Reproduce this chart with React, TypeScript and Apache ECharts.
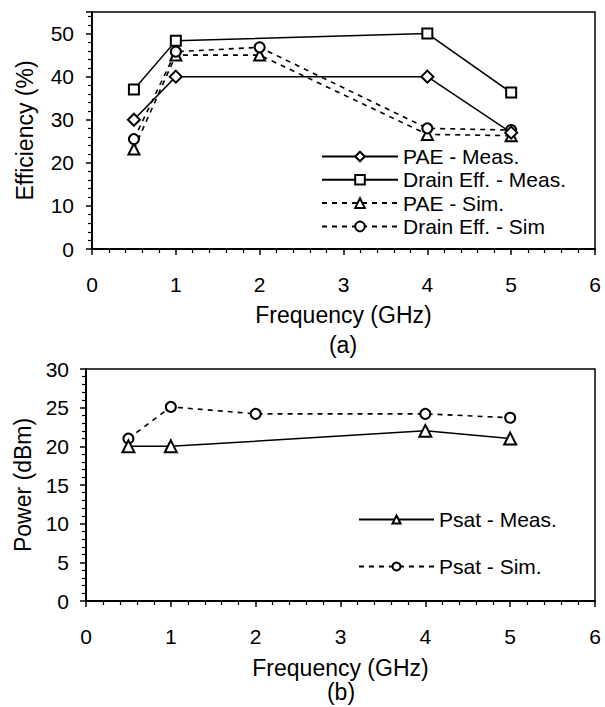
import React, { useEffect, useRef } from "react";
import * as echarts from "echarts";

// ---- Data (a) Efficiency ----
const paeMeasFreq = [0.5, 1, 4, 5];
const paeMeas = [30, 40, 40, 27];
const drainMeasFreq = [0.5, 1, 4, 5];
const drainMeas = [37, 48.3, 50, 36.3];
const simFreq = [0.5, 1, 2, 4, 5];
const paeSim = [23.2, 45, 45, 26.6, 26.3];
const drainSim = [25.5, 45.8, 46.8, 28, 27.6];

// ---- Data (b) Power ----
const psatMeasFreq = [0.5, 1, 4, 5];
const psatMeas = [20, 20, 22, 21];
const psatSimFreq = [0.5, 1, 2, 4, 5];
const psatSim = [21, 25.1, 24.2, 24.2, 23.7];

const namesA = ["PAE - Meas.", "Drain Eff. - Meas.", "PAE - Sim.", "Drain Eff. - Sim"];
const namesB = ["Psat - Meas.", "Psat - Sim."];

const FONT = "'Liberation Sans', Arial, Helvetica, sans-serif";
const BLACK = "#000";

const zip = (xs: number[], ys: number[]) => xs.map((x, i) => [x, ys[i]]);

const xAxisBase = (gridIndex: number, margin: number, nameGap: number) => ({
  type: "value",
  gridIndex,
  min: 0,
  max: 6,
  interval: 1,
  name: "Frequency (GHz)",
  nameLocation: "middle",
  nameGap,
  nameTextStyle: { color: BLACK, fontSize: 23, fontFamily: FONT },
  axisLine: { show: true, onZero: false, lineStyle: { color: BLACK, width: 2 } },
  axisTick: { show: true, inside: false, length: 6, lineStyle: { color: BLACK, width: 1.5 } },
  minorTick: { show: true, splitNumber: 5, length: 4, lineStyle: { color: BLACK, width: 1.2 } },
  splitLine: { show: false },
  minorSplitLine: { show: false },
  axisLabel: { color: BLACK, fontSize: 21, fontFamily: FONT, margin },
});

const solidSeries = (name: string, data: number[][], symbol: string, size: number, xi: number) => ({
  name,
  type: "line",
  xAxisIndex: xi,
  yAxisIndex: xi,
  data,
  symbol,
  symbolSize: size,
  showSymbol: true,
  color: BLACK,
  lineStyle: { color: BLACK, width: 1.5, type: "solid" },
  itemStyle: { color: BLACK, borderColor: BLACK, borderWidth: 1.6 },
  z: 3,
});

const dashedSeries = (name: string, data: number[][], symbol: string, size: number, xi: number) => ({
  name,
  type: "line",
  xAxisIndex: xi,
  yAxisIndex: xi,
  data,
  symbol,
  symbolSize: size,
  showSymbol: true,
  color: BLACK,
  lineStyle: { color: BLACK, width: 1.6, type: [5, 5] },
  itemStyle: { color: BLACK, borderColor: BLACK, borderWidth: 1.6 },
  z: 2,
});

export default function App() {
  const ref = useRef<HTMLDivElement>(null);

  useEffect(() => {
    document.body.style.margin = "0";
    if (!ref.current) return;
    const chart = echarts.init(ref.current, undefined, { renderer: "svg" });

    const option: any = {
      animation: false,
      backgroundColor: "#fff",
      textStyle: { fontFamily: FONT, color: BLACK },
      grid: [
        { left: 92, top: 12, width: 503, height: 237, show: true, borderColor: BLACK, borderWidth: 1.5, backgroundColor: "transparent" },
        { left: 86, top: 369, width: 509, height: 232, show: true, borderColor: BLACK, borderWidth: 1.5, backgroundColor: "transparent" },
      ],
      xAxis: [xAxisBase(0, 25, 54), xAxisBase(1, 25, 55)],
      yAxis: [
        {
          type: "value",
          gridIndex: 0,
          min: 0,
          max: 55,
          interval: 10,
          name: "Efficiency (%)",
          nameLocation: "middle",
          nameGap: 56,
          nameTextStyle: { color: BLACK, fontSize: 23, fontFamily: FONT },
          axisLine: { show: true, onZero: false, lineStyle: { color: BLACK, width: 2 } },
          axisTick: { show: true, inside: false, length: 6, lineStyle: { color: BLACK, width: 1.5 } },
          minorTick: { show: true, splitNumber: 5, length: 4, lineStyle: { color: BLACK, width: 1.2 } },
          splitLine: { show: false },
          axisLabel: { color: BLACK, fontSize: 21, fontFamily: FONT, margin: 18, showMaxLabel: false },
        },
        {
          type: "value",
          gridIndex: 1,
          min: 0,
          max: 30,
          interval: 5,
          name: "Power (dBm)",
          nameLocation: "middle",
          nameGap: 52,
          nameTextStyle: { color: BLACK, fontSize: 23, fontFamily: FONT },
          axisLine: { show: true, onZero: false, lineStyle: { color: BLACK, width: 2 } },
          axisTick: { show: true, inside: false, length: 6, lineStyle: { color: BLACK, width: 1.5 } },
          minorTick: { show: true, splitNumber: 5, length: 4, lineStyle: { color: BLACK, width: 1.2 } },
          splitLine: { show: false },
          axisLabel: { color: BLACK, fontSize: 21, fontFamily: FONT, margin: 17 },
        },
      ],
      legend: [
        {
          data: namesA,
          orient: "vertical",
          left: 321,
          top: 146,
          itemWidth: 76,
          itemHeight: 12,
          itemGap: 2.3,
          padding: 0,
          textStyle: { color: BLACK, fontSize: 21, fontFamily: FONT, lineHeight: 21 },
        },
        {
          data: namesB,
          orient: "vertical",
          left: 358,
          top: 509,
          itemWidth: 75,
          itemHeight: 10,
          itemGap: 26,
          padding: 0,
          textStyle: { color: BLACK, fontSize: 21, fontFamily: FONT, lineHeight: 21 },
        },
      ],
      graphic: [
        { type: "text", x: 343, y: 345, style: { text: "(a)", fill: BLACK, font: `23px ${FONT}`, textAlign: "center", textVerticalAlign: "middle" } },
        { type: "text", x: 341, y: 692, style: { text: "(b)", fill: BLACK, font: `23px ${FONT}`, textAlign: "center", textVerticalAlign: "middle" } },
      ],
      series: [
        solidSeries(namesA[0], zip(paeMeasFreq, paeMeas), "emptyDiamond", 12, 0),
        solidSeries(namesA[1], zip(drainMeasFreq, drainMeas), "emptyRect", 10, 0),
        dashedSeries(namesA[2], zip(simFreq, paeSim), "emptyTriangle", 11, 0),
        dashedSeries(namesA[3], zip(simFreq, drainSim), "emptyCircle", 10, 0),
        solidSeries(namesB[0], zip(psatMeasFreq, psatMeas), "emptyTriangle", 12, 1),
        dashedSeries(namesB[1], zip(psatSimFreq, psatSim), "emptyCircle", 10, 1),
      ],
    };

    chart.setOption(option);
    return () => chart.dispose();
  }, []);

  return <div ref={ref} style={{ width: 605, height: 707 }} />;
}
